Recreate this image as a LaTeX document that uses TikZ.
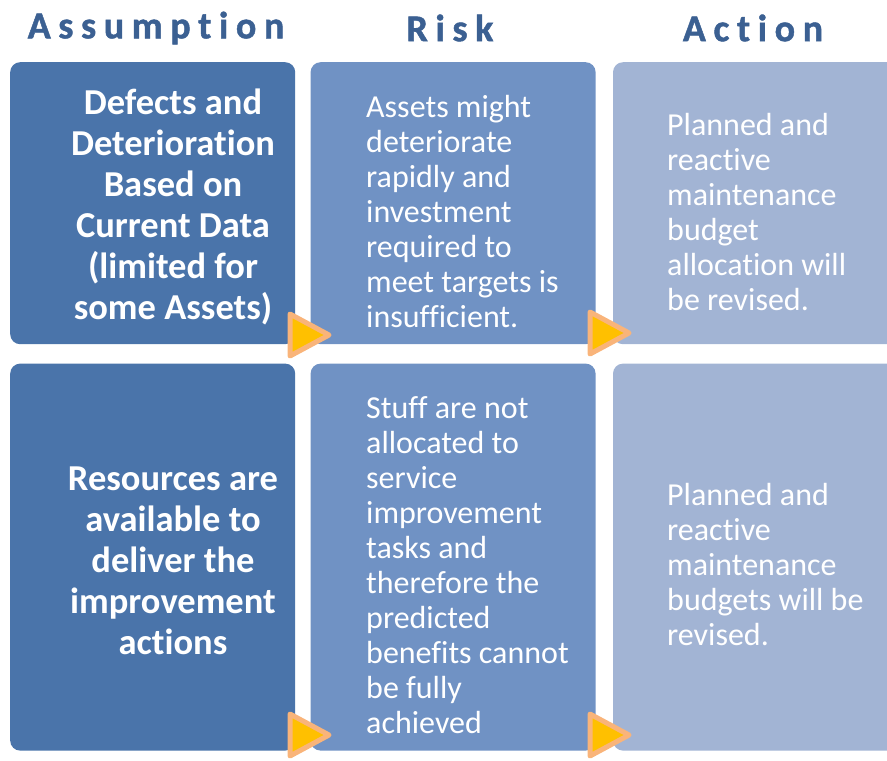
\documentclass[tikz,border=0pt]{standalone}
\usepackage{fontspec}
\setmainfont{Carlito}[Ligatures=NoCommon]
\newfontfamily\headfont{Carlito}[LetterSpace=20, Ligatures=NoCommon, FakeBold=1.2]
\usetikzlibrary{positioning}
\definecolor{DarkCol} {HTML}{4A74AA}
\definecolor{MidCol}  {HTML}{7092C4}
\definecolor{PaleCol} {HTML}{A2B4D4}
\definecolor{HeadBlue}{HTML}{3B6092}
\definecolor{ArrGold} {HTML}{FFC000}
\definecolor{ArrEdge} {HTML}{F9B47A}
\begin{document}
\begin{tikzpicture}[x=1pt, y=-1pt,
		cell/.style={rounded corners=10pt, minimum width=285pt,
			anchor=north west, inner sep=0pt},
		head/.style={text=HeadBlue, font=\headfont\bfseries\fontsize{38}{44}\selectfont},
		asmtext/.style={text=white, align=center,
			font=\bfseries\fontsize{36.5}{41}\selectfont},
		bodytext/.style={text=white, align=left, anchor=west, inner sep=0pt,
			font=\fontsize{32}{35}\selectfont},
		tri/.style={fill=ArrGold, draw=ArrEdge, line width=5pt, line join=round},
		]
		\useasboundingbox (0,0) rectangle (887,761);
		% ── Column headings ──────────────────────────────────────────────────────────
		\node[head] (hasm) at (156,28) {Assumption};
		\node[head] (hrisk) at (450,28) {Risk};
		\node[head] (hact) at (753,28) {Action};
		% ── Row 1 ────────────────────────────────────────────────────────────────────
		\node[cell, fill=DarkCol, minimum height=282pt] (asm1) at (10,62) {};
		\node[cell, fill=MidCol,  minimum height=282pt, right=15pt of asm1.north east, anchor=north west] (risk1) {};
		\node[cell, fill=PaleCol, minimum height=282pt, right=17pt of risk1.north east, anchor=north west] (act1) {};
		% ── Row 2 ────────────────────────────────────────────────────────────────────
		\node[cell, fill=DarkCol, minimum height=387pt, below=19pt of asm1.south west, anchor=north west] (asm2) {};
		\node[cell, fill=MidCol,  minimum height=387pt, below=19pt of risk1.south west, anchor=north west] (risk2) {};
		\node[cell, fill=PaleCol, minimum height=387pt, below=19pt of act1.south west, anchor=north west] (act2) {};
		% ── Texts ────────────────────────────────────────────────────────────────────
		\node[asmtext] (asmtext1) at (173,207) {Defects and\\Deterioration\\Based on\\Current Data\\(limited for\\some Assets)};
		\node[asmtext] (asmtext2) at (173,561) {Resources are\\available to\\deliver the\\improvement\\actions};
		\node[bodytext] (risktext1) at (366,212) {Assets might\\deteriorate\\rapidly and\\investment\\required to\\meet targets is\\insufficient.};
		\node[bodytext] (risktext2) at (366,565) {Stuff are not\\allocated to\\service\\improvement\\tasks and\\therefore the\\predicted\\benefits cannot\\be fully\\achieved};
		\node[bodytext] (acttext1) at (667,212) {Planned and\\reactive\\maintenance\\budget\\allocation will\\be revised.};
		\node[bodytext] (acttext2) at (667,565) {Planned and\\reactive\\maintenance\\budgets will be\\revised.};
		% ── Arrow heads between columns ──────────────────────────────────────────────
		\foreach \x/\y in {290/335, 590/333, 290/735, 590/735}
		\draw[tri] (\x,\y-21) -- (\x+39,\y) -- (\x,\y+21) -- cycle;
	\end{tikzpicture}
\end{document}
